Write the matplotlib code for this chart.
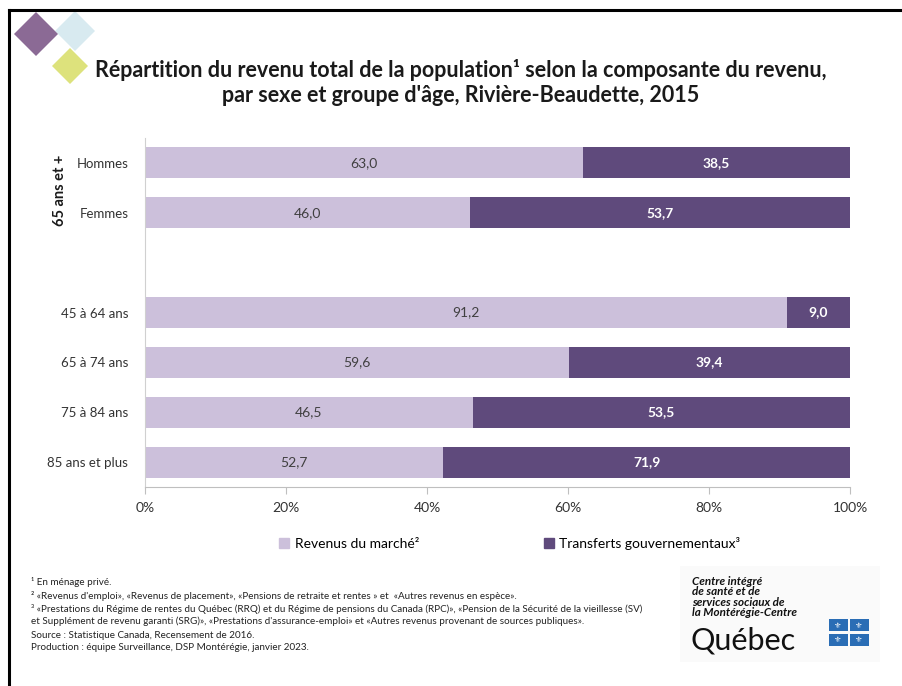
import matplotlib
matplotlib.use("Agg")
import matplotlib.pyplot as plt
from matplotlib.patches import Rectangle, Polygon, Patch
from matplotlib.lines import Line2D

plt.rcParams['font.family'] = ['Lato', 'DejaVu Sans']

# data
categories = ["Hommes", "Femmes", "45 à 64 ans", "65 à 74 ans", "75 à 84 ans", "85 ans et plus"]
slots = [0, 1, 3, 4, 5, 6]          # slot 2 is left empty
marche = [63.0, 46.0, 91.2, 59.6, 46.5, 52.7]
transferts = [38.5, 53.7, 9.0, 39.4, 53.5, 71.9]
series_names = ["Revenus du marché²", "Transferts gouvernementaux³"]
xticks = [0, 20, 40, 60, 80, 100]

light = "#CCC0DB"
dark = "#5F4A7C"

W, H = 902, 686
fig = plt.figure(figsize=(W / 100, H / 100), dpi=100)

def fx(px):
    return px / W

def fy(py):
    return 1 - py / H

# slide border (top and left)
fig.add_artist(Line2D([fx(9), fx(9)], [fy(10), 0], color="black", lw=2.2))
fig.add_artist(Line2D([fx(9), 1], [fy(10), fy(10)], color="black", lw=2.2))

# decorative diamonds
for cx, cy, r, c in [(75, 31, 20, "#D8EAF0"), (36, 34, 22, "#8B6A95"), (70, 66, 18, "#DDE27C")]:
    pts = [(fx(cx), fy(cy - r)), (fx(cx + r), fy(cy)), (fx(cx), fy(cy + r)), (fx(cx - r), fy(cy))]
    fig.add_artist(Polygon(pts, closed=True, transform=fig.transFigure, color=c, lw=0))

# title
fig.text(0.511, fy(70), "Répartition du revenu total de la population¹ selon la composante du revenu,",
         ha="center", va="center", fontsize=15.5, fontweight="bold", color="#1a1a1a")
fig.text(0.511, fy(96), "par sexe et groupe d'âge, Rivière-Beaudette, 2015",
         ha="center", va="center", fontsize=15.5, fontweight="bold", color="#1a1a1a")

ax = fig.add_axes([fx(145), fy(487), fx(850) - fx(145), fy(138) - fy(487)])

for s, m, t in zip(slots, marche, transferts):
    tot = m + t
    pm = m / tot * 100
    pt = t / tot * 100
    ax.barh(s, pm, height=0.62, color=light, left=0)
    ax.barh(s, pt, height=0.62, color=dark, left=pm)
    ax.text(pm / 2, s, f"{m:.1f}".replace(".", ","), ha="center", va="center",
            fontsize=10, color="#404040")
    ax.text(pm + pt / 2, s, f"{t:.1f}".replace(".", ","), ha="center", va="center",
            fontsize=10, color="white", fontweight="bold")

ax.set_xlim(0, 100)
ax.set_ylim(6.5, -0.5)
ax.set_xticks(xticks)
ax.set_xticklabels([f"{v}%" for v in xticks], fontsize=10, color="#333333")
ax.set_yticks(slots)
ax.set_yticklabels(categories, fontsize=9.5, color="#333333")
ax.tick_params(axis="y", length=0, pad=12)
ax.tick_params(axis="x", length=5, color="#BFBFBF", pad=6)
for sp in ["top", "right"]:
    ax.spines[sp].set_visible(False)
ax.spines["left"].set_color("#D0D0D0")
ax.spines["bottom"].set_color("#BFBFBF")

fig.text(fx(60), fy(190), "65 ans et +", rotation=90, ha="center", va="center",
         fontsize=10.5, fontweight="bold", color="#1a1a1a")

# legend
handles = [Patch(color=light), Patch(color=dark)]
fig.legend(handles, series_names, loc="center", bbox_to_anchor=(fx(510), fy(543)),
           ncol=2, frameon=False, fontsize=10, handlelength=0.7, handleheight=0.7,
           handletextpad=0.4, columnspacing=9.0)

# footnotes
notes = [
    "¹ En ménage privé.",
    "² «Revenus d'emploi», «Revenus de placement», «Pensions de retraite et rentes » et  «Autres revenus en espèce».",
    "³ «Prestations du Régime de rentes du Québec (RRQ) et du Régime de pensions du Canada (RPC)», «Pension de la Sécurité de la vieillesse (SV)",
    "et Supplément de revenu garanti (SRG)», «Prestations d'assurance-emploi» et «Autres revenus provenant de sources publiques».",
    "Source : Statistique Canada, Recensement de 2016.",
    "Production : équipe Surveillance, DSP Montérégie, janvier 2023.",
]
ys = [582, 596, 609, 621, 635, 648]
for t, y in zip(notes, ys):
    fig.text(fx(31), fy(y), t, ha="left", va="center", fontsize=7.1, color="#222222")

# logo
fig.add_artist(Rectangle((fx(680), fy(662)), fx(200), fy(566) - fy(662),
                         transform=fig.transFigure, color="#FAFAFA", lw=0))
fig.text(fx(692), fy(597), "Centre intégré\nde santé et de\nservices sociaux de\nla Montérégie-Centre",
         ha="left", va="center", fontsize=8.4, fontweight="bold", style="italic",
         linespacing=0.9, color="#111111")
fig.text(fx(690), fy(641), "Québec", ha="left", va="center", fontsize=22, color="#111111")
for bx, by in [(838, 625), (859, 625), (838, 640), (859, 640)]:
    fig.add_artist(Rectangle((fx(bx - 9.5), fy(by + 6)), fx(19), fy(by - 6) - fy(by + 6),
                             transform=fig.transFigure, color="#2A6DB5", lw=0))
    fig.text(fx(bx), fy(by), "⚜", ha="center", va="center", fontsize=6,
             color="white", family="DejaVu Sans")

fig.savefig("out.png", dpi=100)
